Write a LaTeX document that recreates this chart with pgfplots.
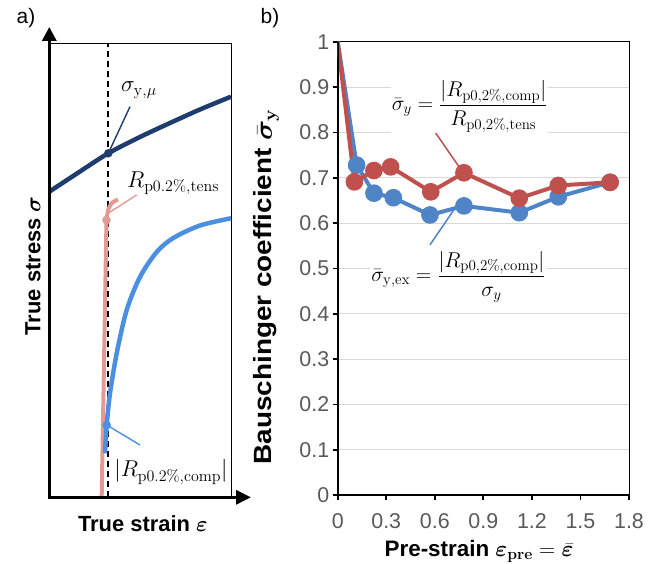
\RequirePackage{fix-cm}
\documentclass[border=0pt]{standalone}
\usepackage[no-math]{fontspec}
\setmainfont{Liberation Sans}
\usepackage{bm}
\usepackage{pgfplots}
\pgfplotsset{compat=1.18}
\usetikzlibrary{arrows.meta}
\definecolor{exred}{HTML}{C0504D}
\definecolor{exblue}{HTML}{4F84C6}
\definecolor{navyc}{HTML}{1F3C6E}
\definecolor{lblue}{HTML}{4A8FE0}
\definecolor{pinkc}{HTML}{E39A95}
\definecolor{gridgray}{HTML}{D9D9D9}
\definecolor{tickgray}{HTML}{595959}
\begin{document}
\begin{tikzpicture}[x=1bp,y=1bp]
\path[use as bounding box] (0,0) rectangle (662,564);
\node[font=\fontsize{21}{23}\selectfont] at (26,546) {a)};
\node[font=\fontsize{21}{23}\selectfont] at (270,546) {b)};
% ---------------- panel a ----------------
\begin{axis}[at={(49.3bp,66.7bp)}, anchor=south west, scale only axis,
  width=181.7bp, height=454bp,
  xmin=49.3, xmax=231, ymin=66.7, ymax=520.7,
  xtick=\empty, ytick=\empty, axis line style={line width=0.9bp},
  clip=false,
  xlabel={\textbf{True strain} $\bm{\varepsilon}$},
  ylabel={\textbf{True stress} $\bm{\sigma}$},
  label style={font=\fontsize{22}{24}\selectfont},
  xlabel style={at={(axis description cs:0.515,-0.058)}, anchor=center},
  ylabel style={at={(axis description cs:-0.09,0.51)}, anchor=center},
]
\addplot[black, line width=1.8bp, dash pattern=on 6bp off 4bp] coordinates {(108.3,66.7) (108.3,520.7)};
\addplot[pinkc, line width=4bp] coordinates {(101.7,68) (106.5,345)};
\addplot[pinkc, line width=4bp, smooth] coordinates {(106.5,345) (108.5,355) (112,361) (118,364.5)};
\addplot[navyc, line width=4.5bp, smooth] coordinates {(49.3,372.3) (80,392.5) (108.3,410.7) (140,427) (170,441) (200,454.5) (231,467.3)};
\addplot[lblue, line width=4.5bp, smooth] coordinates {(105,110.7) (106.7,139) (110,170.7) (116.7,210.7) (126.7,254) (140,287) (156.7,312) (173.3,326) (200,338.5) (231,345.7)};
\addplot[only marks, mark=*, navyc, mark size=4bp] coordinates {(108.3,410.7)};
\addplot[only marks, mark=*, pinkc, mark size=4bp] coordinates {(106.5,344)};
\addplot[only marks, mark=*, lblue, mark size=4bp] coordinates {(106.7,139)};
\draw[navyc, line width=1.4bp] (axis cs:108.3,410.7) -- (axis cs:130,457.3);
\draw[pinkc, line width=1.4bp] (axis cs:107,350) -- (axis cs:136.7,369);
\draw[lblue, line width=1.4bp] (axis cs:106.7,139) -- (axis cs:140,119);
\node[font=\fontsize{23}{25}\selectfont] at (axis cs:139,474) {$\sigma_{\mathrm{y},\mu}$};
\node[font=\fontsize{23}{25}\selectfont, anchor=west, inner sep=0pt] at (axis cs:127,381) {$R_{\mathrm{p0.2\%,tens}}$};
\node[font=\fontsize{23}{25}\selectfont, inner sep=0pt] at (axis cs:171,92) {$|R_{\mathrm{p0.2\%,comp}}|$};
\draw[line width=3.2bp, {Triangle[length=14bp,width=14bp]}-{Triangle[length=15bp,width=14bp]}]
  (axis cs:49.3,537) -- (axis cs:49.3,66.7) -- (axis cs:251,66.7);
\end{axis}
% ---------------- panel b ----------------
\begin{axis}[at={(337.7bp,68.7bp)}, anchor=south west, scale only axis,
  width=291.3bp, height=453.6bp,
  xmin=0, xmax=1.8, ymin=0, ymax=1,
  xtick={0,0.3,0.6,0.9,1.2,1.5,1.8},
  ytick={0,0.1,0.2,0.3,0.4,0.5,0.6,0.7,0.8,0.9,1},
  ymajorgrids, grid style={gridgray, line width=0.9bp},
  tick pos=left, tick align=outside, major tick length=5bp,
  tick style={black, line width=1.8bp},
  axis line style={line width=0.9bp},
  /pgf/number format/assume math mode=true,
  ticklabel style={font=\fontsize{21.5}{23}\selectfont, text=tickgray},
  xticklabel style={/pgf/number format/fixed, /pgf/number format/precision=1, yshift=-10bp},
  yticklabel style={/pgf/number format/fixed, /pgf/number format/precision=1},
  xlabel={\textbf{Pre-strain} $\bm{\varepsilon}_{\mathbf{pre}}=\bar{\bm{\varepsilon}}$},
  ylabel={\scalebox{1.12}[1]{\textbf{Bauschinger coefficient} $\bar{\bm{\sigma}}_{\mathbf{y}}$}},
  xlabel style={font=\fontsize{22.5}{24}\selectfont, at={(axis description cs:0.485,-0.124)}, anchor=center},
  ylabel style={font=\fontsize{25}{27}\selectfont, at={(axis description cs:-0.245,0.46)}, anchor=center},
]
\addplot[exblue, line width=4bp, mark=*, mark size=6.8bp, mark indices={2,3,4,5,6,7,8,9}] coordinates {
(0,1.0) (0.117,0.728) (0.224,0.666) (0.344,0.656) (0.570,0.618) (0.780,0.638) (1.122,0.623) (1.363,0.658) (1.683,0.690)};
\addplot[exred, line width=4bp, mark=*, mark size=6.8bp, mark indices={2,3,4,5,6,7,8,9}] coordinates {
(0,1.0) (0.103,0.691) (0.224,0.716) (0.327,0.724) (0.575,0.669) (0.780,0.711) (1.122,0.655) (1.363,0.683) (1.683,0.690)};
\draw[exred, line width=1.5bp] (axis cs:0.529,0.838) -- (axis cs:0.756,0.721);
\draw[exblue, line width=1.5bp] (axis cs:0.570,0.552) -- (axis cs:0.725,0.633);
\node[fill=white, inner sep=1pt, font=\fontsize{21.5}{23}\selectfont] at (axis cs:0.815,0.858)
  {$\displaystyle \bar{\sigma}_y=\frac{|R_{\mathrm{p0,2\%,comp}}|}{R_{\mathrm{p0,2\%,tens}}}$};
\node[fill=white, inner sep=1pt, font=\fontsize{21.5}{23}\selectfont] at (axis cs:0.746,0.482)
  {$\displaystyle \bar{\sigma}_{\mathrm{y,ex}}=\frac{|R_{\mathrm{p0,2\%,comp}}|}{\sigma_y}$};
\draw[line width=3bp] (rel axis cs:0,1) -- (rel axis cs:0,0) -- (rel axis cs:1,0);
\end{axis}
\end{tikzpicture}
\end{document}
